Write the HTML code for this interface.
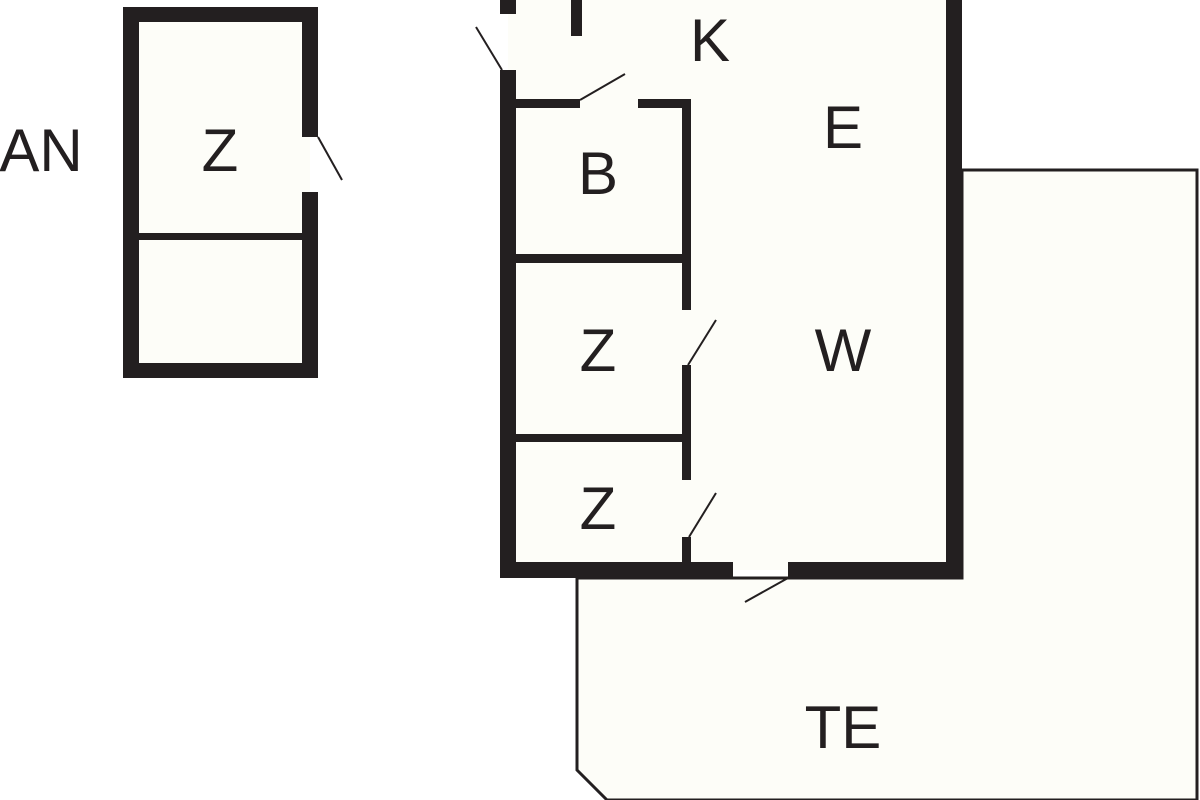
<!DOCTYPE html>
<html><head><style>html,body{margin:0;padding:0;background:#fff}</style></head><body>
<svg width="1200" height="800" xmlns="http://www.w3.org/2000/svg" style="display:block">
<rect width="1200" height="800" fill="#fff"/>
<!-- terrace -->
<polygon points="577,578 577,770 607,800 1197,800 1197,170 962,170 962,578" fill="#fdfdf8" stroke="#231f20" stroke-width="3"/>
<!-- main interior -->
<rect x="508" y="0" width="446" height="570" fill="#fdfdf8"/>
<!-- left building -->
<rect x="131" y="15" width="179" height="355" fill="#fdfdf8"/>
<g fill="#231f20">
<rect x="123" y="7" width="195" height="15"/>
<rect x="123" y="363" width="195" height="15"/>
<rect x="123" y="7" width="16" height="371"/>
<rect x="302" y="7" width="16" height="130"/>
<rect x="302" y="192" width="16" height="186"/>
<rect x="139" y="233" width="163" height="7"/>
<!-- main walls -->
<rect x="500" y="0" width="16" height="14"/>
<rect x="500" y="70" width="16" height="508"/>
<rect x="571" y="0" width="11" height="36"/>
<rect x="946" y="0" width="16" height="578"/>
<rect x="500" y="562" width="233" height="16"/>
<rect x="788" y="562" width="174" height="16"/>
<rect x="516" y="99" width="64" height="9"/>
<rect x="638" y="99" width="53" height="9"/>
<rect x="682" y="99" width="9" height="211"/>
<rect x="682" y="365" width="9" height="115"/>
<rect x="682" y="537" width="9" height="30"/>
<rect x="516" y="254" width="170" height="9"/>
<rect x="516" y="434" width="170" height="8"/>
</g>
<g stroke="#231f20" stroke-width="2">
<line x1="318" y1="137" x2="342" y2="180"/>
<line x1="476" y1="27" x2="502" y2="70"/>
<line x1="580" y1="100" x2="625" y2="74"/>
<line x1="688" y1="365" x2="716" y2="320"/>
<line x1="689" y1="537" x2="716" y2="493"/>
<line x1="788" y1="578" x2="745" y2="602"/>
</g>
<g font-family="Liberation Sans, sans-serif" font-size="60" fill="#231f20" text-anchor="middle">
<text x="41" y="171">AN</text>
<text x="220" y="171">Z</text>
<text x="710" y="61">K</text>
<text x="843" y="148">E</text>
<text x="598" y="194">B</text>
<text x="598" y="371">Z</text>
<text x="843" y="371">W</text>
<text x="598" y="529">Z</text>
<text x="843" y="748">TE</text>
</g>
</svg>
</body></html>
